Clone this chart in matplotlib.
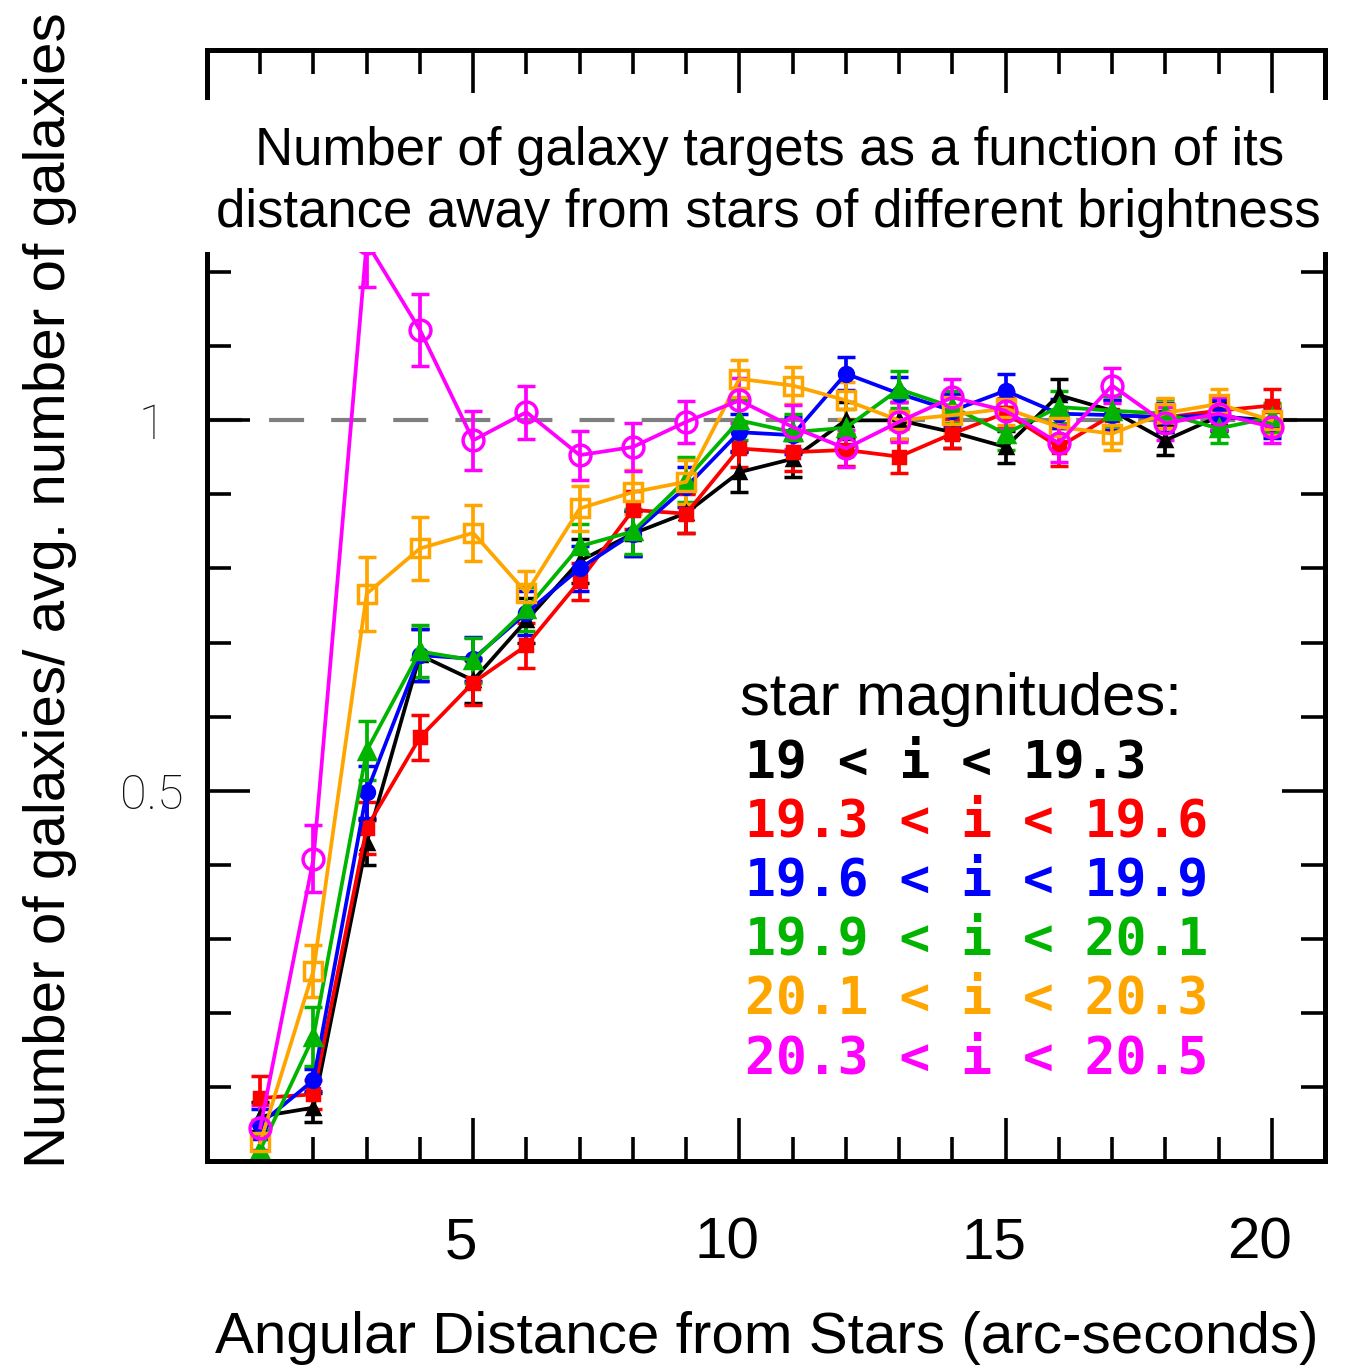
import numpy as np
import matplotlib
matplotlib.use("Agg")
import matplotlib.pyplot as plt
from matplotlib.ticker import FixedLocator, MultipleLocator
from matplotlib.patches import Rectangle
import matplotlib.transforms as mtransforms

# data (jarak 1..20 arc-detik)
jarak = np.arange(1, 21)

hitam = [0.06, 0.072, 0.43, 0.683, 0.649, 0.73, 0.81, 0.847, 0.875, 0.93,
         0.948, 1.0, 1.0, 0.984, 0.964, 1.034, 1.013, 0.973, 1.005, 1.0]
hitam_err = [0.02, 0.02, 0.03, 0.035, 0.03, 0.03, 0.03, 0.03, 0.027, 0.027,
             0.025, 0.025, 0.025, 0.022, 0.022, 0.022, 0.02, 0.02, 0.02, 0.02]

merah = [0.085, 0.09, 0.45, 0.572, 0.646, 0.696, 0.783, 0.879, 0.874, 0.962,
         0.957, 0.96, 0.951, 0.982, 1.01, 0.964, 1.007, 1.004, 1.013, 1.02]
merah_err = [0.03, 0.02, 0.035, 0.03, 0.03, 0.03, 0.025, 0.026, 0.026, 0.025,
             0.025, 0.022, 0.022, 0.02, 0.02, 0.025, 0.02, 0.02, 0.02, 0.022]

biru = [0.05, 0.109, 0.498, 0.683, 0.678, 0.74, 0.80, 0.847, 0.91, 0.984,
        0.98, 1.063, 1.036, 1.013, 1.04, 1.009, 1.007, 1.004, 1.007, 0.996]
biru_err = [0.02, 0.015, 0.035, 0.035, 0.03, 0.03, 0.03, 0.03, 0.027, 0.025,
            0.025, 0.022, 0.022, 0.022, 0.022, 0.02, 0.02, 0.02, 0.02, 0.02]

hijau = [0.015, 0.168, 0.554, 0.688, 0.676, 0.745, 0.83, 0.85, 0.92, 1.0,
         0.984, 0.99, 1.042, 1.018, 0.982, 1.018, 1.013, 1.009, 0.989, 1.004]
hijau_err = [0.02, 0.04, 0.04, 0.035, 0.03, 0.03, 0.03, 0.03, 0.03, 0.027,
             0.025, 0.025, 0.025, 0.022, 0.022, 0.022, 0.02, 0.02, 0.02, 0.02]

oranye = [0.025, 0.257, 0.766, 0.827, 0.848, 0.767, 0.881, 0.903, 0.917, 1.056,
          1.047, 1.027, 1.0, 1.007, 1.016, 0.991, 0.982, 1.01, 1.022, 1.0]
oranye_err = [0.03, 0.035, 0.05, 0.042, 0.038, 0.03, 0.031, 0.03, 0.03, 0.025,
              0.025, 0.025, 0.025, 0.025, 0.022, 0.022, 0.022, 0.02, 0.02, 0.02]

magenta = [0.045, 0.408, 1.24, 1.122, 0.973, 1.011, 0.953, 0.964, 0.998, 1.027,
           0.991, 0.962, 0.998, 1.031, 1.013, 0.969, 1.047, 0.996, 1.009, 0.991]
magenta_err = [0.03, 0.045, 0.06, 0.048, 0.04, 0.036, 0.033, 0.032, 0.028, 0.03,
               0.03, 0.025, 0.027, 0.025, 0.025, 0.025, 0.023, 0.022, 0.022, 0.022]

label_legend = ["19 < i < 19.3", "19.3 < i < 19.6", "19.6 < i < 19.9",
                "19.9 < i < 20.1", "20.1 < i < 20.3", "20.3 < i < 20.5"]
warna = ["black", "#ff0000", "#0000ff", "#00b400", "#ffa500", "#ff00ff"]

W, H = 1353, 1369
fig = plt.figure(figsize=(W / 100, H / 100), dpi=100)
ax = fig.add_axes([207 / W, (H - 1161) / H, (1325 - 207) / W, (1161 - 50) / H])

ax.set_xlim(0, 21)
ax.set_ylim(0, 1.5)

# garis putus-putus di y = 1
ax.axhline(1.0, color="#7f7f7f", lw=3, dashes=(8.4, 6.5), zorder=1)

# gaya tiap seri: marker, ukuran, isi
gaya = [("^", 8, True), ("s", 8, True), ("o", 10, True),
        ("^", 12, True), ("s", 13, False), ("o", 15, False)]
semua = [(hitam, hitam_err), (merah, merah_err), (biru, biru_err),
         (hijau, hijau_err), (oranye, oranye_err), (magenta, magenta_err)]

for (nilai, err), c, (m, ms, isi) in zip(semua, warna, gaya):
    ax.errorbar(jarak, nilai, yerr=err, color=c, marker=m, ms=ms,
                mfc=c if isi else "none", mec=c, mew=2.5, lw=2.7,
                elinewidth=2.7, capsize=6.5, capthick=3, zorder=2)

# sumbu dan tick
for s in ax.spines.values():
    s.set_linewidth(3.6)
ax.xaxis.set_major_locator(FixedLocator([5, 10, 15, 20]))
ax.xaxis.set_minor_locator(MultipleLocator(1))
ax.yaxis.set_major_locator(FixedLocator([0.5, 1.0]))
ax.yaxis.set_minor_locator(MultipleLocator(0.1))
ax.tick_params(which="both", direction="in", top=True, right=True, width=2.6)
ax.tick_params(which="major", length=31)
ax.tick_params(which="minor", length=17)
ax.tick_params(axis="x", which="major", pad=40, labelsize=42)
ax.tick_params(axis="y", which="major", pad=40, labelsize=35, labelcolor="#111111")

ax.set_xticklabels(["5", "10", "15", "20"])
ax.set_yticklabels(["0.5", "1"])
geser = mtransforms.ScaledTranslation(-12 / 100, 0, fig.dpi_scale_trans)
for lbl in ax.get_xticklabels():
    lbl.set_family("Liberation Sans")
    lbl.set_transform(lbl.get_transform() + geser)
for lbl in ax.get_yticklabels():
    lbl.set_horizontalalignment("center")
    lbl.set_family("Roboto")
    lbl.set_fontweight("light")

# kotak putih untuk judul (menutupi bagian atas plot)
kotak = Rectangle((195 / W, 1 - 252 / H), (1335 - 195) / W, (252 - 100) / H,
                  transform=fig.transFigure, facecolor="white", edgecolor="none",
                  zorder=5)
fig.add_artist(kotak)
fig.text(770 / W, 1 - 165 / H, "Number of galaxy targets as a function of its",
         ha="center", va="baseline", fontsize=38, family="Liberation Sans", zorder=6)
fig.text(768 / W, 1 - 227 / H, "distance away from stars of different brightness",
         ha="center", va="baseline", fontsize=38, family="Liberation Sans", zorder=6)

# label sumbu
fig.text(50 / W, 1 - 590 / H, "Number of galaxies/ avg. number of galaxies",
         rotation=90, ha="center", va="center", fontsize=42, family="Liberation Sans")
fig.text(767 / W, 1 - 1353 / H, "Angular Distance from Stars (arc-seconds)",
         ha="center", va="baseline", fontsize=42, family="Liberation Sans")

# legenda teks berwarna
fig.text(740 / W, 1 - 715 / H, "star magnitudes:", ha="left", va="baseline",
         fontsize=43, family="Liberation Sans")
for k, (teks, c) in enumerate(zip(label_legend, warna)):
    fig.text(745 / W, 1 - (777 + 59.2 * k) / H, teks, ha="left", va="baseline",
             fontsize=37, family="DejaVu Sans Mono", fontweight="bold", color=c)

fig.savefig("out.png", dpi=100)
